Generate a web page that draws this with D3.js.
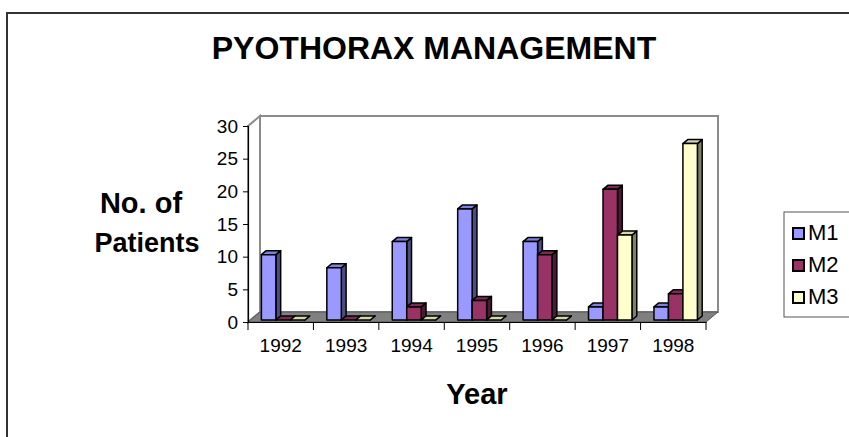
<!DOCTYPE html>
<html>
<head>
<meta charset="utf-8">
<script src="https://cdn.jsdelivr.net/npm/d3@7"></script>
<style>
  body { margin: 0; background: #fff; }
  svg { display: block; font-family: Arial, "Liberation Sans", sans-serif; }
</style>
</head>
<body>
<svg id="chart" width="849" height="437"></svg>
<script>
// data
var years = ['1992', '1993', '1994', '1995', '1996', '1997', '1998'];
var seriesNames = ['M1', 'M2', 'M3'];
var m1 = [10, 8, 12, 17, 12, 2, 2];
var m2 = [0, 0, 2, 3, 10, 20, 4];
var m3 = [0, 0, 0, 0, 0, 13, 27];
var yTicks = [0, 5, 10, 15, 20, 25, 30];

var seriesValues = [m1, m2, m3];
var fronts = ['#9999FF', '#993366', '#FFFFCC'];
var tops = ['#7F7FDD', '#7D2953', '#D6D6AA'];
var sides = ['#4D4D80', '#4D1A33', '#808066'];

/*************************************************************************/

var svg = d3.select('#chart');

// outer frame, runs off the right and bottom
svg.append('rect').attr('x', 7).attr('y', 13).attr('width', 1000).attr('height', 600)
  .attr('fill', 'none').attr('stroke', '#333').attr('stroke-width', 2);

svg.append('text').attr('x', 434).attr('y', 59).attr('text-anchor', 'middle')
  .style('font-size', '32px').style('font-weight', 'bold').text('PYOTHORAX MANAGEMENT');

var ox = 248, W = 458, DX = 12, DY = -10;

var x = d3.scaleBand().domain(years).range([0, W]);
var y = d3.scaleLinear().domain([0, 30]).range([322, 126]);
var xs = d3.scaleBand().domain(seriesNames).range([11, x.bandwidth() - 11]);

function P(px, v, z){ return [ox + px + z*DX, y(v) + z*DY]; }
function poly(pts){ return 'M' + pts.map(p => p.join(',')).join('L') + 'Z'; }

var g = svg.append('g');

// walls and floor
g.append('path').attr('d', poly([P(0, 0, 1), P(0, 30, 1), P(W, 30, 1), P(W, 0, 1)]))
  .attr('fill', '#fff').attr('stroke', '#8c8c8c').attr('stroke-width', 2);
g.append('path').attr('d', poly([P(0, 0, 0), P(0, 30, 0), P(0, 30, 1), P(0, 0, 1)]))
  .attr('fill', '#fff').attr('stroke', '#8c8c8c').attr('stroke-width', 2);
g.append('path').attr('d', poly([P(0, 0, 0), P(W, 0, 0), P(W, 0, 1), P(0, 0, 1)]))
  .attr('fill', '#808080').attr('stroke', '#555').attr('stroke-width', 1);

// bars, left to right so each front face covers the previous side face
var zf = 0.2, zb = 0.6;
years.forEach(function(yr, i){
  seriesNames.forEach(function(s, k){
    var v = seriesValues[k][i];
    var x0 = x(yr) + xs(s), x1 = x0 + xs.bandwidth();
    var bg = g.append('g').attr('stroke', '#000').attr('stroke-width', 1.5).attr('stroke-linejoin', 'round');
    bg.append('path').attr('d', poly([P(x1, 0, zf), P(x1, v, zf), P(x1, v, zb), P(x1, 0, zb)])).attr('fill', sides[k]);
    bg.append('path').attr('d', poly([P(x0, v, zf), P(x1, v, zf), P(x1, v, zb), P(x0, v, zb)])).attr('fill', tops[k]);
    if(v > 0){
      bg.append('path').attr('d', poly([P(x0, 0, zf), P(x0, v, zf), P(x1, v, zf), P(x1, 0, zf)])).attr('fill', fronts[k]);
    }
  });
});

// axes
var yAxis = svg.append('g').attr('transform', 'translate(' + ox + ',0)')
  .call(d3.axisLeft(y).tickValues(yTicks).tickSize(5).tickPadding(5));
var xAxis = svg.append('g').attr('transform', 'translate(' + ox + ',322)')
  .call(d3.axisBottom(x).tickSize(0).tickPadding(17));
[yAxis, xAxis].forEach(function(a){
  a.selectAll('text').style('font-size', '19px').style('font-family', 'Arial, "Liberation Sans", sans-serif').attr('fill', '#000');
  a.selectAll('line').attr('stroke', '#000');
  a.select('.domain').attr('stroke', '#000').attr('stroke-width', 1.2);
});
// category separators below the axis
xAxis.selectAll('.sep').data(years.map(d => x(d)).concat([W])).enter().append('line')
  .attr('x1', d => d).attr('x2', d => d).attr('y1', 0).attr('y2', 8).attr('stroke', '#000');

// axis titles
var yl = svg.append('text').attr('text-anchor', 'middle').style('font-weight', 'bold');
yl.append('tspan').attr('x', 141).attr('y', 213).style('font-size', '29px').text('No. of');
yl.append('tspan').attr('x', 147).attr('y', 252).style('font-size', '27px').text('Patients');
svg.append('text').attr('x', 477).attr('y', 404).attr('text-anchor', 'middle')
  .style('font-size', '29px').style('font-weight', 'bold').text('Year');

// legend
var lg = svg.append('g');
lg.append('rect').attr('x', 784).attr('y', 212).attr('width', 100).attr('height', 105)
  .attr('fill', '#fff').attr('stroke', '#555').attr('stroke-width', 1);
seriesNames.forEach(function(s, k){
  var ly = 228 + k*32;
  lg.append('rect').attr('x', 793).attr('y', ly).attr('width', 11).attr('height', 11)
    .attr('fill', fronts[k]).attr('stroke', '#000').attr('stroke-width', 2);
  lg.append('text').attr('x', 808).attr('y', ly + 12).style('font-size', '22px').text(s);
});
</script>
</body>
</html>
